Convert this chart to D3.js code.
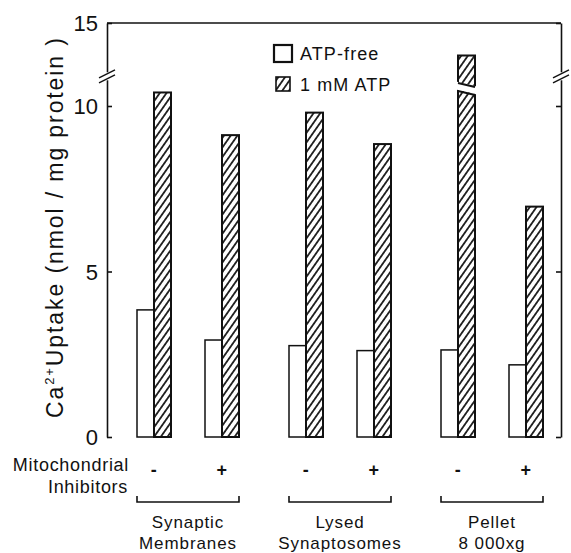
<!DOCTYPE html>
<html>
<head>
<meta charset="utf-8">
<script src="https://cdn.jsdelivr.net/npm/d3@7"></script>
<style>
  html, body { margin: 0; padding: 0; background: #fff; }
  svg text { font-family: "Liberation Sans", Arial, sans-serif; fill: #111; }
</style>
</head>
<body>
<div id="chart"></div>
<script>
const groups = ["Synaptic Membranes", "Lysed Synaptosomes", "Pellet 8 000xg"];
const groupLines = [["Synaptic", "Membranes"], ["Lysed", "Synaptosomes"], ["Pellet", "8 000xg"]];
const inhibitors = ["-", "+"];
const series = ["ATP-free", "1 mM ATP"];
const atpFree = [3.84, 2.93, 2.76, 2.61, 2.63, 2.18];
const atp1mM = [10.41, 9.12, 9.8, 8.85, 12.4, 6.96];
const yTicks = [0, 5, 10, 15];
const brokenBar = 4; // index of the bar drawn with a break
const breakAt = 10.53;
const axisBreakAt = 10.9;

const width = 571;
const height = 553;
const left = 107;
const right = 561;

const svg = d3.select("#chart").append("svg")
  .attr("width", width)
  .attr("height", height);

const defs = svg.append("defs");
defs.append("pattern")
  .attr("id", "hatch")
  .attr("patternUnits", "userSpaceOnUse")
  .attr("width", 5.5)
  .attr("height", 6)
  .attr("patternTransform", "rotate(35)")
  .append("line")
  .attr("x1", 2.75).attr("y1", 0).attr("x2", 2.75).attr("y2", 6)
  .attr("stroke", "#111")
  .attr("stroke-width", 1.7);

// broken scale: linear up to 11, compressed above
const y = d3.scaleLinear().domain([0, 10, 11, 15]).range([437, 106, 73, 23]);
const x0 = d3.scalePoint().domain(groups).range([188, 492]);
const x1 = d3.scalePoint().domain(inhibitors).range([-34, 34]);
const xs = d3.scaleBand().domain(series).range([-17, 17]);

const rows = [];
groups.forEach((g, gi) => {
  inhibitors.forEach((inh, ii) => {
    const i = gi * 2 + ii;
    rows.push({ g, inh, i, cx: x0(g) + x1(inh), free: atpFree[i], atp: atp1mM[i] });
  });
});

// axes
const yl = svg.append("g")
  .attr("transform", `translate(${left},0)`)
  .call(d3.axisLeft(y).tickValues(yTicks).tickSizeInner(-5).tickSizeOuter(0).tickPadding(9).tickFormat(d3.format("d")));
yl.selectAll("text").style("font-size", "22px").attr("dy", "0.36em");

svg.append("g")
  .attr("transform", `translate(${right},0)`)
  .call(d3.axisRight(y).tickValues(yTicks).tickSizeInner(-5).tickSizeOuter(0).tickFormat(""));

svg.selectAll(".domain, .tick line").attr("stroke", "#111").attr("stroke-width", 1.6);

svg.append("line")
  .attr("x1", left).attr("x2", right)
  .attr("y1", y(15)).attr("y2", y(15))
  .attr("stroke", "#111").attr("stroke-width", 1.6);

// axis break marks
[left, right].forEach((ax) => {
  const yb = y(axisBreakAt);
  svg.append("rect")
    .attr("x", ax - 3).attr("y", yb - 4)
    .attr("width", 6).attr("height", 8)
    .attr("fill", "#fff");
  [-2.5, 2.5].forEach((o) => {
    svg.append("line")
      .attr("x1", ax - 8).attr("y1", yb + o + 4)
      .attr("x2", ax + 8).attr("y2", yb + o - 4)
      .attr("stroke", "#111").attr("stroke-width", 1.5);
  });
});

// bars
const bars = svg.append("g");
bars.selectAll("rect.free")
  .data(rows)
  .join("rect")
  .attr("class", "free")
  .attr("x", (d) => d.cx + xs("ATP-free"))
  .attr("width", xs.bandwidth())
  .attr("y", (d) => y(d.free))
  .attr("height", (d) => y(0) - y(d.free))
  .attr("fill", "#fff")
  .attr("stroke", "#111")
  .attr("stroke-width", 1.5);

bars.selectAll("rect.atp")
  .data(rows)
  .join("rect")
  .attr("class", "atp")
  .attr("x", (d) => d.cx + xs("1 mM ATP"))
  .attr("width", xs.bandwidth())
  .attr("y", (d) => y(d.atp))
  .attr("height", (d) => y(0) - y(d.atp))
  .attr("fill", "url(#hatch)")
  .attr("stroke", "#111")
  .attr("stroke-width", 2);

// break in the tall bar
{
  const d = rows[brokenBar];
  const bx = d.cx + xs("1 mM ATP");
  const bw = xs.bandwidth();
  const yb = y(breakAt);
  bars.append("polygon")
    .attr("points", [[bx - 2, yb - 7], [bx + bw + 2, yb - 2], [bx + bw + 2, yb + 6], [bx - 2, yb + 1]].join(" "))
    .attr("fill", "#fff");
  [[yb - 6, yb - 1], [yb + 2, yb + 7]].forEach(([a, b]) => {
    bars.append("line")
      .attr("x1", bx).attr("y1", a + 0.5)
      .attr("x2", bx + bw).attr("y2", b - 0.5)
      .attr("stroke", "#111").attr("stroke-width", 2);
  });
}

// legend
const legend = svg.append("g");
legend.append("rect")
  .attr("x", 274).attr("y", 45).attr("width", 18).attr("height", 17)
  .attr("fill", "#fff").attr("stroke", "#111").attr("stroke-width", 2.2);
legend.append("rect")
  .attr("x", 276).attr("y", 77).attr("width", 14).attr("height", 14)
  .attr("fill", "url(#hatch)").attr("stroke", "#111").attr("stroke-width", 1.6);
legend.selectAll("text")
  .data(series)
  .join("text")
  .attr("x", 300)
  .attr("y", (d, i) => 60 + i * 31)
  .style("font-size", "18px")
  .style("letter-spacing", "1.1px")
  .text((d) => d);

// y label
const ylab = svg.append("text")
  .attr("transform", "translate(63,228) rotate(-90)")
  .attr("text-anchor", "middle")
  .attr("textLength", 380)
  .attr("lengthAdjust", "spacing")
  .style("font-size", "23px");
ylab.append("tspan").text("Ca");
ylab.append("tspan").attr("dy", -9).style("font-size", "13px").text("2+");
ylab.append("tspan").attr("dy", 9).text("Uptake (nmol / mg protein )");

// bottom labels
const bottom = svg.append("g").style("font-size", "18px").style("letter-spacing", "0.7px");
bottom.append("text").attr("x", 129).attr("y", 471).attr("text-anchor", "end").text("Mitochondrial");
bottom.append("text").attr("x", 128).attr("y", 493).attr("text-anchor", "end").text("Inhibitors");

bottom.selectAll("text.inh")
  .data(rows)
  .join("text")
  .attr("class", "inh")
  .attr("x", (d) => d.cx)
  .attr("y", 476)
  .attr("text-anchor", "middle")
  .style("font-size", "18px")
  .style("font-weight", "bold")
  .text((d) => d.inh);

groups.forEach((g, gi) => {
  const l = x0(g) + x1("-") + xs("ATP-free");
  const r = x0(g) + x1("+") + xs("1 mM ATP") + xs.bandwidth();
  svg.append("path")
    .attr("d", `M${l},496V502H${r}V496`)
    .attr("fill", "none")
    .attr("stroke", "#111")
    .attr("stroke-width", 1.6);
  bottom.append("text")
    .attr("x", x0(g))
    .attr("y", 528)
    .attr("text-anchor", "middle")
    .style("font-size", "17px")
    .style("letter-spacing", "0.9px")
    .text(groupLines[gi][0]);
  bottom.append("text")
    .attr("x", x0(g))
    .attr("y", 549)
    .attr("text-anchor", "middle")
    .style("font-size", "17px")
    .style("letter-spacing", "0.9px")
    .text(groupLines[gi][1]);
});
</script>
</body>
</html>
